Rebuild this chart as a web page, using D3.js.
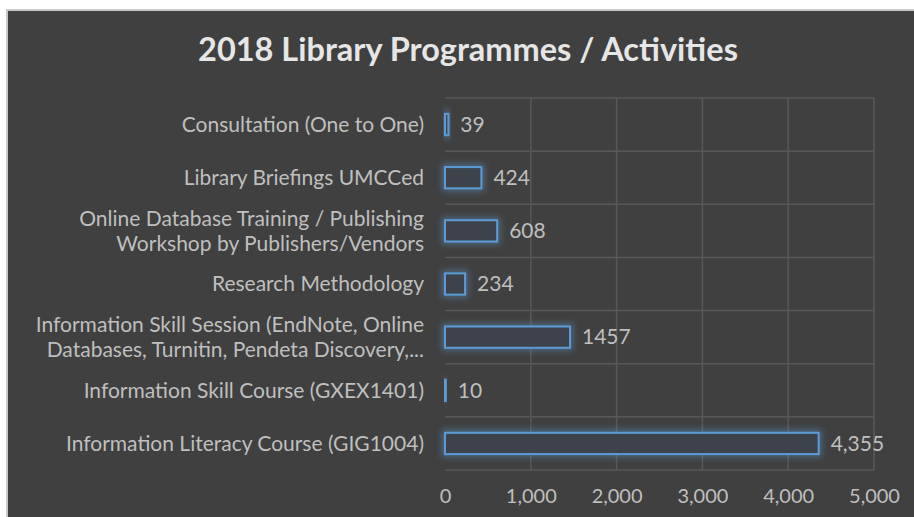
<!doctype html>
<html>
<head>
<meta charset="utf-8">
<title>2018 Library Programmes / Activities</title>
<script src="https://d3js.org/d3.v7.min.js"></script>
<style>
  body { margin: 0; background: #fff; }
  svg { display: block; }
</style>
</head>
<body>
<svg id="chart" width="914" height="517"></svg>
<script>
  var categories = [
    ["Consultation (One to One)"],
    ["Library Briefings UMCCed"],
    ["Online Database Training / Publishing", "Workshop by Publishers/Vendors"],
    ["Research Methodology"],
    ["Information Skill Session (EndNote, Online", "Databases, Turnitin, Pendeta Discovery,..."],
    ["Information Skill Course (GXEX1401)"],
    ["Information Literacy Course (GIG1004)"]
  ];
  var values = [39, 424, 608, 234, 1457, 10, 4355];
  var valueLabels = ["39", "424", "608", "234", "1457", "10", "4,355"];
  var ticks = [0, 1000, 2000, 3000, 4000, 5000];

  var svg = d3.select('#chart');
  var font = "Lato, 'Open Sans', sans-serif";

  // chart background + border
  svg.append('rect')
    .attr('x', 7).attr('y', 10).attr('width', 914).attr('height', 520)
    .style('fill', '#404040')
    .style('stroke', '#c8c8c8')
    .style('stroke-width', 2);

  svg.append('text')
    .attr('x', 468).attr('y', 61)
    .attr('text-anchor', 'middle')
    .style('font-family', font)
    .style('font-weight', 'bold')
    .style('font-size', '32.5px')
    .style('fill', '#e6e6e6')
    .text('2018 Library Programmes / Activities');

  var xScale = d3.scaleLinear()
    .domain([0, 5000])
    .range([445, 874]);

  var yScale = d3.scaleBand()
    .domain(d3.range(categories.length))
    .range([98, 470])
    .paddingInner(0)
    .paddingOuter(0);

  var defs = svg.append('defs');
  var glow = defs.append('filter')
    .attr('id', 'glow')
    .attr('x', '-50%').attr('y', '-100%')
    .attr('width', '200%').attr('height', '300%');
  glow.append('feMorphology')
    .attr('in', 'SourceAlpha')
    .attr('operator', 'dilate')
    .attr('radius', 2)
    .attr('result', 'fat');
  glow.append('feGaussianBlur')
    .attr('in', 'fat')
    .attr('stdDeviation', 3)
    .attr('result', 'blur');
  glow.append('feFlood').attr('flood-color', '#5b9bd5').attr('flood-opacity', 0.45);
  glow.append('feComposite').attr('in2', 'blur').attr('operator', 'in').attr('result', 'g');
  var merge = glow.append('feMerge');
  merge.append('feMergeNode').attr('in', 'g');
  merge.append('feMergeNode').attr('in', 'SourceGraphic');

  // grid
  var grid = svg.append('g').attr('id', 'grid');
  grid.selectAll('line.v')
    .data(ticks.slice(1))
    .enter()
    .append('line')
    .attr('class', 'v')
    .attr('x1', d => xScale(d)).attr('x2', d => xScale(d))
    .attr('y1', 98).attr('y2', 470)
    .style('stroke', '#585858')
    .style('stroke-width', 1.5);

  grid.selectAll('line.h')
    .data(d3.range(categories.length + 1))
    .enter()
    .append('line')
    .attr('class', 'h')
    .attr('x1', xScale(0)).attr('x2', xScale(5000))
    .attr('y1', i => i < categories.length ? yScale(i) : yScale.range()[1])
    .attr('y2', i => i < categories.length ? yScale(i) : yScale.range()[1])
    .style('stroke', '#585858')
    .style('stroke-width', 1.5);

  // x axis
  var xAxis = d3.axisBottom()
    .scale(xScale)
    .tickValues(ticks)
    .tickFormat(d3.format(','))
    .tickSize(0)
    .tickPadding(19);

  var xAxisG = svg.append('g')
    .attr('id', 'xAxisG')
    .attr('transform', 'translate(0,470)')
    .call(xAxis);
  xAxisG.select('.domain').remove();
  xAxisG.selectAll('text')
    .style('font-family', font)
    .style('font-size', '20px')
    .style('fill', '#bfbfbf');

  // category labels
  svg.append('g').selectAll('text.cat')
    .data(categories)
    .enter()
    .append('text')
    .attr('class', 'cat')
    .attr('text-anchor', 'end')
    .attr('x', 424)
    .attr('y', (d, i) => yScale(i) + yScale.bandwidth() / 2)
    .style('font-family', font)
    .style('font-size', '21px')
    .style('fill', '#bfbfbf')
    .each(function(d) {
      var t = d3.select(this);
      d.forEach(function(line, j) {
        t.append('tspan')
          .attr('x', 424)
          .attr('dy', j === 0 ? (d.length === 1 ? '0.35em' : (0.35 - 0.6) + 'em') : '1.2em')
          .text(line);
      });
    });

  // bars
  var barH = yScale.bandwidth() * 0.4;
  svg.append('g').selectAll('rect.bar')
    .data(values)
    .enter()
    .append('rect')
    .attr('class', 'bar')
    .attr('x', xScale(0))
    .attr('y', (d, i) => yScale(i) + yScale.bandwidth() / 2 - barH / 2)
    .attr('width', d => xScale(d) - xScale(0))
    .attr('height', barH)
    .attr('filter', 'url(#glow)')
    .style('fill', '#3c434b')
    .style('stroke', '#5b9bd5')
    .style('stroke-width', 2);

  // value labels
  svg.append('g').selectAll('text.val')
    .data(values)
    .enter()
    .append('text')
    .attr('class', 'val')
    .attr('x', d => xScale(d) + 12)
    .attr('y', (d, i) => yScale(i) + yScale.bandwidth() / 2)
    .attr('dy', '0.35em')
    .style('font-family', font)
    .style('font-size', '21px')
    .style('fill', '#bfbfbf')
    .text((d, i) => valueLabels[i]);
</script>
</body>
</html>
